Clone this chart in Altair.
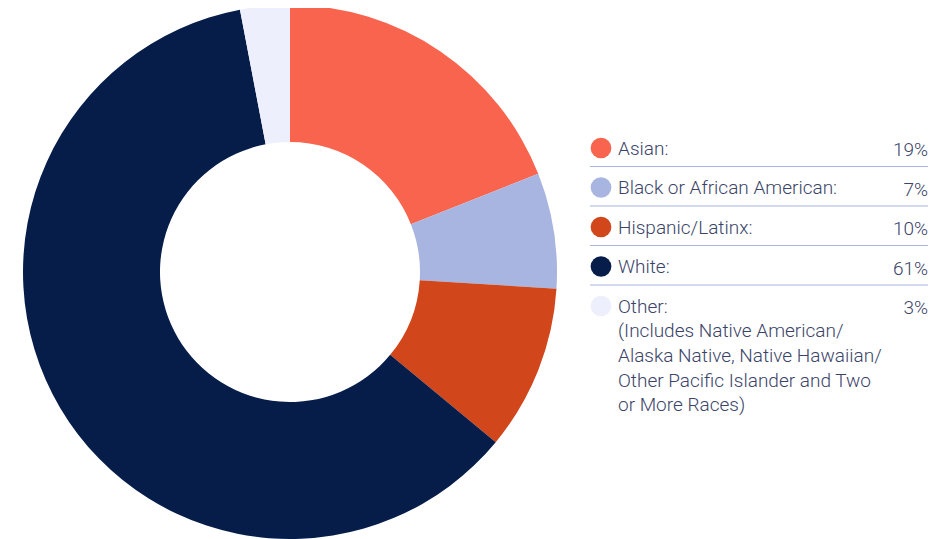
import altair as alt
import pandas as pd

categories = ["Asian", "Black or African American", "Hispanic/Latinx", "White", "Other"]
values = [19, 7, 10, 61, 3]
labels = [
    "Asian:",
    "Black or African American:",
    "Hispanic/Latinx:",
    "White:",
    "Other:\n(Includes Native American/\nAlaska Native, Native Hawaiian/\nOther Pacific Islander and Two\nor More Races)",
]
pct_labels = ["19%", "7%", "10%", "61%", "3%"]
colors = ["#F9644F", "#A7B5E0", "#D2461B", "#061D49", "#EDF0FC"]

df = pd.DataFrame({
    "cat": categories,
    "value": values,
    "label": labels,
    "pct": pct_labels,
    "order": list(range(len(categories))),
})

TEXT = "#3B4468"
FS = 19
color = alt.Color("cat:N", scale=alt.Scale(domain=categories, range=colors), legend=None)

base = alt.Chart(df)

pie = base.mark_arc(outerRadius=267, innerRadius=130).encode(
    theta=alt.Theta("value:Q", stack=True),
    order=alt.Order("order:Q"),
    color=color,
    x=alt.value(282),
    y=alt.value(264),
)

yrow = alt.Y("cat:N", sort=categories, axis=None,
             scale=alt.Scale(type="point", range=[140, 298], padding=0))

dots = base.mark_point(shape="circle", filled=True, size=430, opacity=1).encode(
    x=alt.value(593), y=yrow, color=color,
)

names = base.mark_text(align="left", baseline="top", dy=-8.5, fontSize=FS,
                       font="Roboto", fontWeight=300, color=TEXT,
                       lineBreak="\n", lineHeight=24.7).encode(
    x=alt.value(610), y=yrow, text="label:N",
)

pcts = base.mark_text(align="right", baseline="middle", dy=2, fontSize=FS,
                      font="Roboto", fontWeight=300, color=TEXT).encode(
    x=alt.value(920), y=yrow, text="pct:N",
)

rules = base.transform_filter(alt.datum.cat != "Other").mark_rule(
    color="#A7B5E0", strokeWidth=1, yOffset=18.5).encode(
    x=alt.value(582), x2=alt.value(920), y=yrow,
)

chart = alt.layer(pie, rules, dots, names, pcts).properties(
    width=922, height=531, padding=0,
    autosize=alt.AutoSizeParams(type="none"),
).configure_view(stroke=None)

chart.save("out.html", embed_options={"renderer": "svg", "actions": False})
